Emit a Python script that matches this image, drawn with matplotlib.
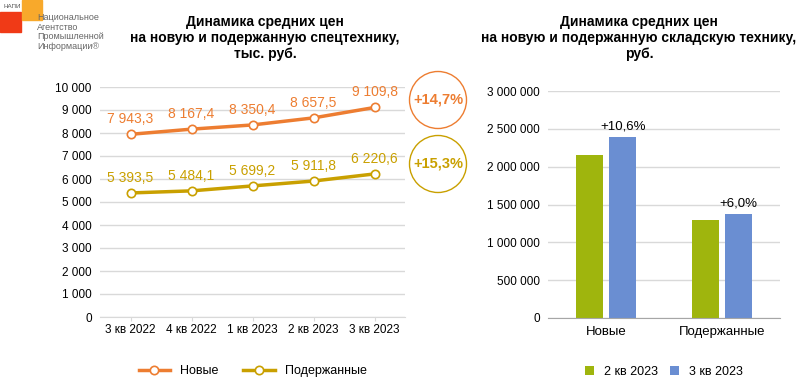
import numpy as np
import matplotlib.pyplot as plt
from matplotlib.patches import Ellipse, Rectangle

plt.rcParams['font.family'] = ['Liberation Sans', 'DejaVu Sans']

quarters = ['3 кв 2022', '4 кв 2022', '1 кв 2023', '2 кв 2023', '3 кв 2023']
new_prices = [7943.3, 8167.4, 8350.4, 8657.5, 9109.8]
used_prices = [5393.5, 5484.1, 5699.2, 5911.8, 6220.6]
line_growth = ['+14,7%', '+15,3%']

bar_groups = ['Новые', 'Подержанные']
q2_vals = [2160000, 1297000]
q3_vals = [2390000, 1375000]
bar_growth = ['+10,6%', '+6,0%']

ORANGE = '#ED7D31'
GOLD = '#C9A000'
GREEN = '#9FB50D'
BLUE = '#6A8ED2'
GRID = '#D9D9D9'


def fmt(v, dec=False):
    if dec:
        s = f'{v:,.1f}'.replace(',', ' ').replace('.', ',')
    else:
        s = f'{v:,.0f}'.replace(',', ' ')
    return s


fig = plt.figure(figsize=(8.01, 3.8), dpi=100)

# left chart: line
ax1 = fig.add_axes([100 / 801, 1 - 317 / 380, 305 / 801, 230 / 380])
x = np.arange(len(quarters))
ax1.plot(x, new_prices, color=ORANGE, lw=2.5, marker='o', ms=6,
         mfc='white', mec=ORANGE, mew=1.2, label='Новые', zorder=3)
ax1.plot(x, used_prices, color=GOLD, lw=2.5, marker='o', ms=6,
         mfc='white', mec=GOLD, mew=1.2, label='Подержанные', zorder=3)
for xi, v in zip(x, new_prices):
    ax1.annotate(fmt(v, True), (xi, v), xytext=(0, 6), textcoords='offset points',
                 ha='center', va='bottom', color=ORANGE, fontsize=10)
for xi, v in zip(x, used_prices):
    ax1.annotate(fmt(v, True), (xi, v), xytext=(0, 6), textcoords='offset points',
                 ha='center', va='bottom', color=GOLD, fontsize=10)
ax1.set_xlim(-0.5, 4.5)
ax1.set_ylim(0, 10000)
ax1.set_yticks(np.arange(0, 10001, 1000))
ax1.set_yticklabels([fmt(t) for t in np.arange(0, 10001, 1000)])
ax1.set_xticks(x, quarters)
ax1.grid(axis='y', color=GRID, lw=1)
ax1.set_axisbelow(True)
for s in ['top', 'right', 'left']:
    ax1.spines[s].set_visible(False)
ax1.spines['bottom'].set_color(GRID)
ax1.tick_params(length=0, labelsize=8.5, pad=6)
ax1.tick_params(axis='x', length=3, color=GRID, pad=2)
ax1.legend(loc='upper center', bbox_to_anchor=(0.5, -0.16), ncols=2, frameon=False,
           fontsize=9, handlelength=2.5)
fig.text(265 / 801, 1 - 38 / 380,
         'Динамика средних цен\nна новую и подержанную спецтехнику,\nтыс. руб.',
         ha='center', va='center', fontsize=10, fontweight='bold', linespacing=1.2)

# growth circles
for (cx, cy), txt, col in zip([(438, 100), (438, 164)], line_growth, [ORANGE, GOLD]):
    fig.patches.append(Ellipse((cx / 801, 1 - cy / 380), 57 / 801, 57 / 380,
                               transform=fig.transFigure, fill=False, ec=col, lw=1.0))
    fig.text(cx / 801, 1 - cy / 380, txt, ha='center', va='center', color=col,
             fontsize=10.5, fontweight='bold')

# right chart: bars
ax2 = fig.add_axes([548 / 801, 1 - 318 / 380, 232 / 801, 227 / 380])
xb = np.arange(len(bar_groups))
w = 0.23
b1 = ax2.bar(xb - 0.145, q2_vals, w, color=GREEN, label='2 кв 2023')
b2 = ax2.bar(xb + 0.145, q3_vals, w, color=BLUE, label='3 кв 2023')
ax2.bar_label(b2, labels=bar_growth, padding=3, fontsize=9.5)
ax2.set_xlim(-0.5, 1.5)
ax2.set_ylim(0, 3000000)
ticks = np.arange(0, 3000001, 500000)
ax2.set_yticks(ticks)
ax2.set_yticklabels([fmt(t) for t in ticks])
ax2.set_xticks(xb, bar_groups)
ax2.grid(axis='y', color=GRID, lw=1)
ax2.set_axisbelow(True)
for s in ['top', 'right', 'left']:
    ax2.spines[s].set_visible(False)
ax2.spines['bottom'].set_color('#A6A6A6')
ax2.tick_params(length=0, labelsize=8.5, pad=6)
ax2.tick_params(axis='x', labelsize=9.5)
ax2.legend(loc='upper center', bbox_to_anchor=(0.5, -0.16), ncols=2, frameon=False,
           fontsize=9, handlelength=0.7, handleheight=0.7, columnspacing=1.0)
fig.text(639 / 801, 1 - 38 / 380,
         'Динамика средних цен\nна новую и подержанную складскую технику,\nруб.',
         ha='center', va='center', fontsize=10, fontweight='bold', linespacing=1.2)

# logo
fig.patches.append(Rectangle((0, 1 - 32 / 380), 21 / 801, 20 / 380,
                             transform=fig.transFigure, color='#F03A17'))
fig.patches.append(Rectangle((22 / 801, 1 - 20 / 380), 20 / 801, 20 / 380,
                             transform=fig.transFigure, color='#F8A92B'))
fig.text(4 / 801, 1 - 7 / 380, 'НАПИ', fontsize=4.5, color='#555555', va='center')
fig.text(37 / 801, 1 - 32 / 380, 'Национальное\nАгентство\nПромышленной\nИнформации®',
         fontsize=6.5, color='#666666', va='center', linespacing=1.05)

fig.savefig('out.png', dpi=100)
